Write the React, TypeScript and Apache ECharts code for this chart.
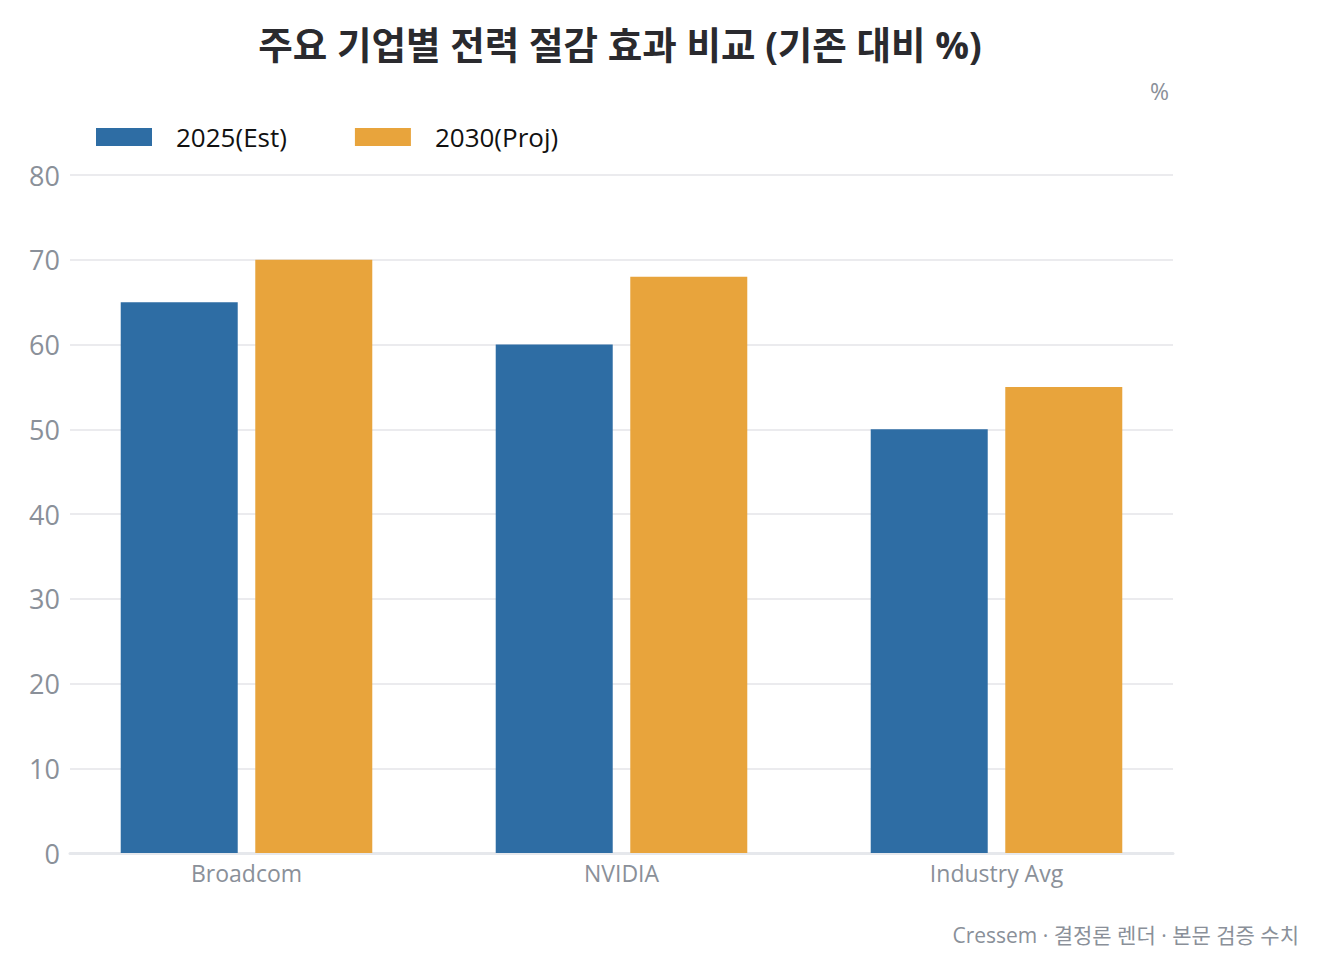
import React, { useEffect, useRef } from "react";
import * as echarts from "echarts";

const categories = ["Broadcom", "NVIDIA", "Industry Avg"];
const seriesNames = ["2025(Est)", "2030(Proj)"];
const values2025 = [65, 60, 50];
const values2030 = [70, 68, 55];
const yTicks = { min: 0, max: 80, interval: 10 };

const FONT = "'Open Sans', 'Noto Sans CJK KR', sans-serif";
const GRAY = "#8a9099";

export default function App() {
  const ref = useRef<HTMLDivElement>(null);
  useEffect(() => {
    if (!ref.current) return;
    const chart = echarts.init(ref.current, undefined, { renderer: "svg" });
    chart.setOption({
      animation: false,
      backgroundColor: "#ffffff",
      textStyle: { fontFamily: FONT },
      title: {
        text: "주요 기업별 전력 절감 효과 비교 (기존 대비 %)",
        left: 615,
        textAlign: "center",
        top: 21,
        textStyle: { fontFamily: FONT, fontSize: 37.5, fontWeight: "bold", color: "#2a2a2e" },
      },
      legend: {
        data: seriesNames,
        left: 96,
        top: 124,
        padding: 0,
        itemWidth: 56,
        itemHeight: 18,
        itemGap: 68,
        icon: "rect",
        textStyle: { fontFamily: FONT, fontSize: 26, color: "#111111", padding: [0, 0, 0, 19] },
      },
      grid: [
        { left: 70, right: 154, top: 175, bottom: 122 },
        { left: 59, right: 143, top: 175, bottom: 122 },
      ],
      xAxis: [
        {
          type: "category",
          gridIndex: 0,
          data: categories,
          axisLine: { show: true, lineStyle: { color: "#e6e8ec", width: 3 } },
          axisTick: { show: false },
          axisLabel: { show: false },
          splitLine: { show: false },
        },
        {
          type: "category",
          gridIndex: 1,
          data: categories,
          axisLine: { show: false },
          axisTick: { show: false },
          axisLabel: { fontFamily: FONT, fontSize: 23, color: GRAY, margin: 8 },
        },
      ],
      yAxis: [
        {
          type: "value",
          gridIndex: 0,
          min: yTicks.min,
          max: yTicks.max,
          interval: yTicks.interval,
          axisLine: { show: false },
          axisTick: { show: false },
          axisLabel: { fontFamily: FONT, fontSize: 27, color: GRAY, margin: 10 },
          splitLine: { show: true, lineStyle: { color: "#ebebee", width: 2 } },
        },
        {
          type: "value",
          gridIndex: 1,
          min: yTicks.min,
          max: yTicks.max,
          interval: yTicks.interval,
          show: false,
          splitLine: { show: false },
        },
      ],
      series: [
        {
          name: seriesNames[0],
          type: "bar",
          xAxisIndex: 1,
          yAxisIndex: 1,
          data: values2025,
          barWidth: 117,
          barGap: "15%",
          itemStyle: { color: "#2e6da4" },
        },
        {
          name: seriesNames[1],
          type: "bar",
          xAxisIndex: 1,
          yAxisIndex: 1,
          data: values2030,
          barWidth: 117,
          barGap: "15%",
          itemStyle: { color: "#e8a43c" },
        },
      ],
      graphic: [
        {
          type: "text",
          right: 158,
          top: 79,
          style: { text: "%", font: `23px ${FONT}`, fill: GRAY },
        },
        {
          type: "text",
          right: 28,
          top: 924,
          style: { text: "Cressem · 결정론 렌더 · 본문 검증 수치", font: `21px ${FONT}`, fill: GRAY },
        },
      ],
    });
    return () => chart.dispose();
  }, []);
  return (
    <div
      ref={ref}
      style={{ position: "fixed", left: 0, top: 0, width: 1327, height: 975 }}
    />
  );
}
